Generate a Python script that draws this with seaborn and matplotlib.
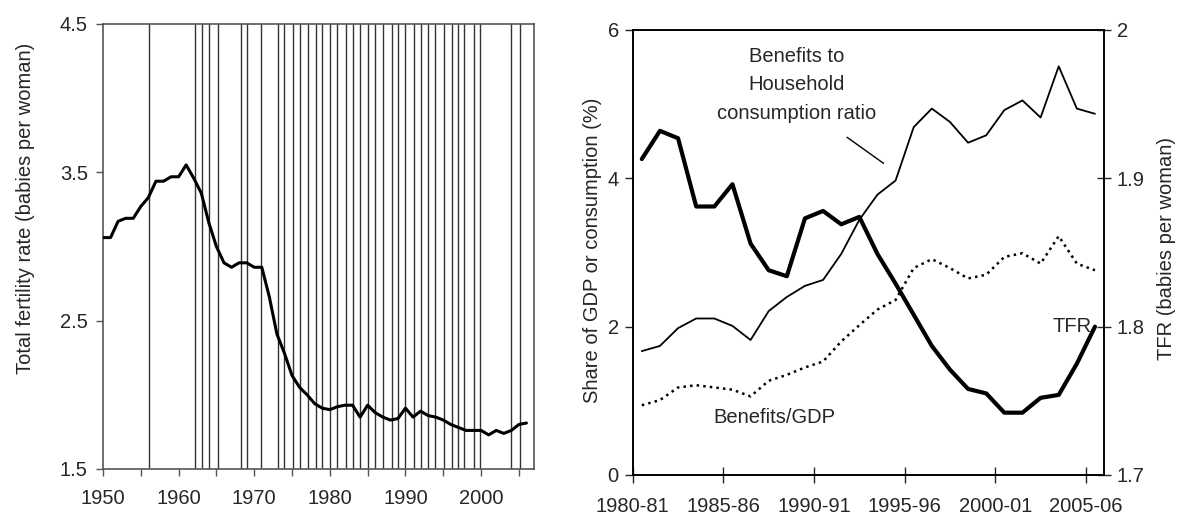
import numpy as np
import pandas as pd
import matplotlib
matplotlib.use('Agg')
import matplotlib.pyplot as plt
import seaborn as sns

# ---------- data: left panel (annual TFR) ----------
years = list(range(1950, 2007))
tfr_annual = [3.06, 3.06, 3.17, 3.19, 3.19, 3.27, 3.33, 3.44, 3.44, 3.47,
              3.47, 3.55, 3.46, 3.36, 3.16, 3.00, 2.89, 2.86, 2.89, 2.89,
              2.86, 2.86, 2.66, 2.41, 2.28, 2.13, 2.05, 2.00, 1.94, 1.91,
              1.90, 1.92, 1.93, 1.93, 1.85, 1.93, 1.88, 1.85, 1.83, 1.84,
              1.91, 1.85, 1.89, 1.86, 1.85, 1.83, 1.80, 1.78, 1.76, 1.76,
              1.76, 1.73, 1.76, 1.74, 1.76, 1.80, 1.81]
# policy change dates (vertical lines)
policy_dates = [1956.1, 1962.2, 1963.05, 1964.0, 1965.2, 1968.2, 1969.1, 1970.9,
                1973.1, 1974.0, 1975.1, 1976.1, 1977.05, 1978.2, 1979.0, 1980.0,
                1981.0, 1982.2, 1983.1, 1984.0, 1985.1, 1986.0, 1987.05, 1988.2,
                1989.0, 1990.0, 1991.1, 1992.1, 1993.0, 1993.9, 1995.1, 1996.1,
                1996.9, 1997.8, 1999.05, 1999.9, 2004.0, 2005.2]

# ---------- data: right panel (financial years) ----------
fy_start = list(range(1980, 2006))
fy_labels = ['1980-81', '1985-86', '1990-91', '1995-96', '2000-01', '2005-06']
benefits_consumption = [1.67, 1.74, 1.98, 2.11, 2.11, 2.01, 1.82, 2.21, 2.40, 2.55,
                        2.63, 2.98, 3.44, 3.78, 3.97, 4.69, 4.94, 4.76, 4.48, 4.58,
                        4.92, 5.05, 4.82, 5.51, 4.94, 4.87]
benefits_gdp = [0.94, 1.01, 1.18, 1.21, 1.18, 1.15, 1.06, 1.27, 1.35, 1.45,
                1.53, 1.80, 2.02, 2.23, 2.36, 2.79, 2.91, 2.79, 2.65, 2.70,
                2.94, 2.99, 2.85, 3.22, 2.85, 2.76]
tfr_fy = [1.913, 1.932, 1.927, 1.881, 1.881, 1.896, 1.856, 1.838, 1.834, 1.873,
          1.878, 1.869, 1.874, 1.849, 1.829, 1.808, 1.787, 1.771, 1.758, 1.755,
          1.742, 1.742, 1.752, 1.754, 1.775, 1.800]

df_fy = pd.DataFrame({'x': [y + 0.5 for y in fy_start],
                      'cons': benefits_consumption,
                      'gdp': benefits_gdp,
                      'tfr': tfr_fy})

# ---------- style ----------
sns.set_style('white')
plt.rcParams['font.family'] = ['Liberation Sans', 'DejaVu Sans']
plt.rcParams['font.size'] = 14.5

fig = plt.figure(figsize=(11.77, 5.16), dpi=100)
ax1 = fig.add_axes([0.0875, 0.0911, 0.3662, 0.8624])
ax2 = fig.add_axes([0.5376, 0.0795, 0.4004, 0.8624])
ax3 = ax2.twinx()

# ---------- left panel ----------
for d in policy_dates:
    ax1.axvline(d, color='#333333', lw=1.0, zorder=1)
sns.lineplot(x=years, y=tfr_annual, ax=ax1, color='black', lw=2.2, zorder=3)
ax1.set_xlim(1950, 2007)
ax1.set_ylim(1.5, 4.5)
ax1.set_yticks([1.5, 2.5, 3.5, 4.5])
ax1.set_yticklabels(['1.5', '2.5', '3.5', '4.5'])
xt = list(range(1950, 2006, 5))
ax1.set_xticks(xt)
ax1.set_xticklabels([str(t) if t % 10 == 0 else '' for t in xt])
ax1.tick_params(axis='y', direction='out', length=5, width=1, color='#555555',
                left=True, pad=6)
ax1.tick_params(axis='x', direction='out', length=5, width=1, color='#555555',
                bottom=True, pad=9.5)
for s in ax1.spines.values():
    s.set_color('#555555')
    s.set_linewidth(1.2)
fig.text(26 / 1177, 1 - 208 / 516, 'Total fertility rate (babies per woman)',
         rotation=90, ha='center', va='center')

# ---------- right panel ----------
sns.lineplot(data=df_fy, x='x', y='cons', ax=ax2, color='black', lw=1.3)
sns.lineplot(data=df_fy, x='x', y='gdp', ax=ax2, color='black', lw=1.8, ls=':')
sns.lineplot(data=df_fy, x='x', y='tfr', ax=ax3, color='black', lw=3.0)

ax2.set_xlim(1980, 2006)
ax2.set_ylim(0, 6)
ax2.set_yticks([0, 2, 4, 6])
ax2.set_xticks(list(range(1980, 2006, 5)))
ax2.set_xticklabels(fy_labels)
ax3.set_ylim(1.7, 2.0)
ax3.set_yticks([1.7, 1.8, 1.9, 2.0])
ax3.set_yticklabels(['1.7', '1.8', '1.9', '2'])
for a in (ax2, ax3):
    a.set_xlabel('')
    a.set_ylabel('')
    for s in a.spines.values():
        s.set_color('black')
        s.set_linewidth(1.2)
ax2.tick_params(axis='y', direction='out', length=6, width=1, left=True, pad=4)
ax2.tick_params(axis='x', direction='inout', length=12, width=1, bottom=True, pad=9.5)
ax3.tick_params(axis='y', direction='inout', length=10, width=1, right=True, pad=4)

ax2.text(1989.04, 5.26, 'Benefits to\nHousehold\nconsumption ratio',
         ha='center', va='center', linespacing=1.65)
ax2.annotate('', xy=(1993.96, 4.18), xytext=(1991.70, 4.575),
             arrowprops=dict(arrowstyle='-', color='black', lw=1.0))
ax2.text(1987.79, 0.78, 'Benefits/GDP', ha='center', va='center')
ax3.text(2005.3, 1.8, 'TFR', ha='right', va='center')

fig.text(593 / 1177, 1 - 250 / 516, 'Share of GDP or consumption (%)',
         rotation=90, ha='center', va='center')
fig.text(1167 / 1177, 1 - 249 / 516, 'TFR (babies per woman)',
         rotation=90, ha='center', va='center')

fig.savefig('out.png', dpi=100)
